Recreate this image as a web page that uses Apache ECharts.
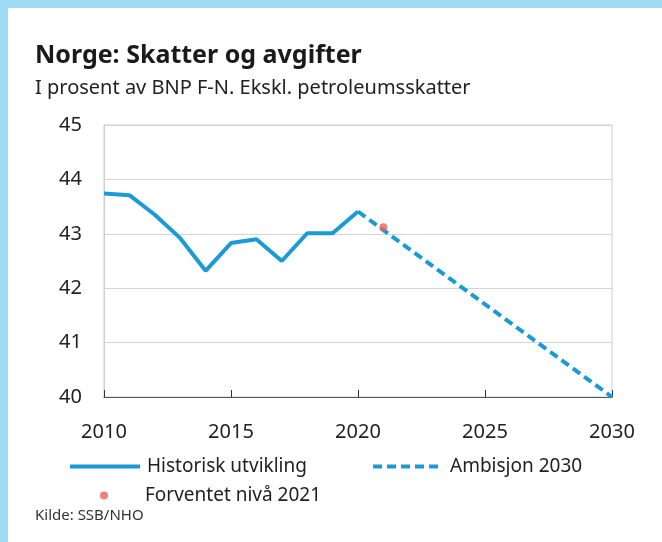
<!DOCTYPE html>
<html>
<head>
<meta charset="utf-8">
<script src="https://cdn.jsdelivr.net/npm/echarts@6/dist/echarts.min.js"></script>
<style>
  html, body { margin: 0; padding: 0; background: #fff; }
  #main { width: 662px; height: 542px; }
</style>
</head>
<body>
<div id="main"></div>
<script>
// historisk utvikling, skatter og avgifter i % av BNP F-N
const years = [2010, 2011, 2012, 2013, 2014, 2015, 2016, 2017, 2018, 2019, 2020];
const historisk = [43.74, 43.71, 43.35, 42.92, 42.32, 42.83, 42.9, 42.5, 43.01, 43.01, 43.41];
// ambisjon: rett linje fra 2020 til 2030
const ambisjonYears = [2020, 2030];
const ambisjon = [43.41, 40.0];
// forventet nivå 2021
const forventetYear = 2021;
const forventet = 43.12;
const xTicks = [2010, 2015, 2020, 2025, 2030];
const yTicks = [40, 41, 42, 43, 44, 45];

const font = 'Noto Sans';
const blue = '#1a9bd7';
const red = '#e8625a';

let myChart = echarts.init(document.getElementById('main'));

myChart.setOption({
    animation: false,
    textStyle: { fontFamily: font },
    graphic: [
        // lyseblå ramme oppe og til venstre
        { type: 'rect', left: 0, top: 0, shape: { width: 662, height: 8 }, style: { fill: '#9fdcf5' } },
        { type: 'rect', left: 0, top: 0, shape: { width: 8, height: 542 }, style: { fill: '#9fdcf5' } },
        { type: 'text', left: 35, top: 508, style: { text: 'Kilde: SSB/NHO', fontSize: 15, fill: '#333', fontFamily: font } }
    ],
    title: [
        {
            text: 'Norge: Skatter og avgifter',
            left: 30, top: 43, padding: [0, 5],
            textStyle: { fontSize: 25, fontWeight: 'bold', color: '#1a1a1a', fontFamily: font }
        },
        {
            text: 'I prosent av BNP F-N. Ekskl. petroleumsskatter',
            left: 30, top: 78, padding: [0, 5],
            textStyle: { fontSize: 20, fontWeight: 'normal', color: '#222', fontFamily: font }
        }
    ],
    legend: [
        {
            data: ['Historisk utvikling'],
            left: 68, top: 457, padding: 0,
            itemWidth: 70, itemHeight: 20,
            itemStyle: { opacity: 0 },
            lineStyle: { width: 4 },
            textStyle: { fontSize: 19, color: '#222', padding: [0, 0, 0, 2] }
        },
        {
            data: ['Ambisjon 2030'],
            left: 371, top: 457, padding: 0,
            itemWidth: 70, itemHeight: 20,
            itemStyle: { opacity: 0 },
            lineStyle: { width: 4 },
            textStyle: { fontSize: 19, color: '#222', padding: [0, 0, 0, 2] }
        },
        {
            data: [{ name: 'Forventet nivå 2021', icon: 'circle' }],
            left: 100, top: 486, padding: 0,
            itemWidth: 8, itemHeight: 8,
            textStyle: { fontSize: 19, color: '#222', padding: [0, 0, 0, 32] }
        }
    ],
    grid: {
        left: 104,
        right: 50,
        top: 125,
        bottom: 145,
        show: true,
        borderColor: '#cfcfcf',
        borderWidth: 1
    },
    xAxis: {
        type: 'value',
        min: xTicks[0],
        max: xTicks[xTicks.length - 1],
        interval: 5,
        axisLine: { lineStyle: { color: '#555', width: 1 } },
        axisTick: { show: true, length: 7, inside: true, lineStyle: { color: '#333' } },
        splitLine: { show: false },
        axisLabel: { fontSize: 20, color: '#222', margin: 25, formatter: v => String(v) }
    },
    yAxis: {
        type: 'value',
        min: yTicks[0],
        max: yTicks[yTicks.length - 1],
        interval: 1,
        axisLine: { show: true, lineStyle: { color: '#cfcfcf' } },
        axisTick: { show: false },
        splitLine: { lineStyle: { color: '#d4d4d4', width: 1 } },
        axisLabel: { fontSize: 20, color: '#222', margin: 22 }
    },
    series: [
        {
            name: 'Historisk utvikling',
            type: 'line',
            data: years.map((y, i) => [y, historisk[i]]),
            showSymbol: false,
            symbol: 'none',
            lineStyle: { color: blue, width: 4 },
            itemStyle: { color: blue },
            z: 3,
            markLine: {
                silent: true,
                symbol: 'none',
                label: { show: false },
                lineStyle: { color: '#3a3a3a', width: 1, type: 'solid' },
                data: [[{ coord: [2020, 45.2] }, { coord: [2020, 39.95] }]]
            }
        },
        {
            name: 'Ambisjon 2030',
            type: 'line',
            data: ambisjonYears.map((y, i) => [y, ambisjon[i]]),
            showSymbol: false,
            symbol: 'none',
            lineStyle: { color: blue, width: 4, type: [9, 5] },
            itemStyle: { color: blue },
            z: 3
        },
        {
            name: 'Forventet nivå 2021',
            type: 'scatter',
            data: [[forventetYear, forventet]],
            symbolSize: 8,
            itemStyle: { color: red },
            z: 4
        }
    ]
});
</script>
</body>
</html>
